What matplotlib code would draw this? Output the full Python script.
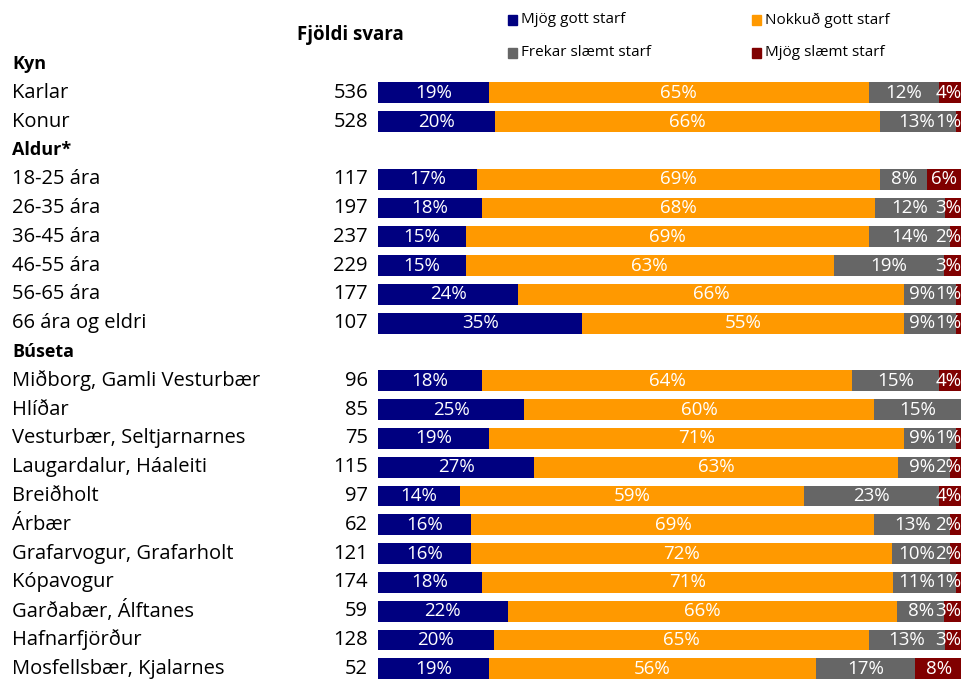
import matplotlib
matplotlib.use("Agg")
import matplotlib.pyplot as plt
from matplotlib.patches import Rectangle

plt.rcParams['font.family'] = ['Open Sans', 'DejaVu Sans']

groups = ["Kyn", "Aldur*", "Búseta"]
categories = [
    ["Karlar", "Konur"],
    ["18-25 ára", "26-35 ára", "36-45 ára", "46-55 ára", "56-65 ára", "66 ára og eldri"],
    ["Miðborg, Gamli Vesturbær", "Hlíðar", "Vesturbær, Seltjarnarnes",
     "Laugardalur, Háaleiti", "Breiðholt", "Árbær", "Grafarvogur, Grafarholt",
     "Kópavogur", "Garðabær, Álftanes", "Hafnarfjörður", "Mosfellsbær, Kjalarnes"],
]
counts = [536, 528,
          117, 197, 237, 229, 177, 107,
          96, 85, 75, 115, 97, 62, 121, 174, 59, 128, 52]
mjog_gott = [19, 20, 17, 18, 15, 15, 24, 35, 18, 25, 19, 27, 14, 16, 16, 18, 22, 20, 19]
nokkud_gott = [65, 66, 69, 68, 69, 63, 66, 55, 64, 60, 71, 63, 59, 69, 72, 71, 66, 65, 56]
frekar_slaemt = [12, 13, 8, 12, 14, 19, 9, 9, 15, 15, 9, 9, 23, 13, 10, 11, 8, 13, 17]
mjog_slaemt = [4, 1, 6, 3, 2, 3, 1, 1, 4, 0, 1, 2, 4, 2, 2, 1, 3, 3, 8]

series = [mjog_gott, nokkud_gott, frekar_slaemt, mjog_slaemt]
series_names = ["Mjög gott starf", "Nokkuð gott starf", "Frekar slæmt starf", "Mjög slæmt starf"]
colors = ["#000080", "#FF9900", "#666666", "#800000"]

W, H = 962, 679
fig = plt.figure(figsize=(W / 100, H / 100), dpi=100)

row0_px, step_px = 64, 28.8
y_top = (0 - row0_px) / step_px
y_bot = (H - row0_px) / step_px

ax = fig.add_axes([378 / W, 0, 1 - 378 / W, 1])
ax.set_xlim(0, 100)
ax.set_ylim(y_bot, y_top)
ax.axis("off")

# left-hand text axes sharing the same rows
lax = fig.add_axes([0, 0, 1, 1])
lax.set_xlim(0, W)
lax.set_ylim(y_bot, y_top)
lax.axis("off")

renderer = fig.canvas.get_renderer()
px_per_unit = (W - 378) / 100

row = 0
k = 0
for g, cats in zip(groups, categories):
    lax.text(12, row, g, fontsize=13, fontweight="bold", va="center", ha="left")
    row += 1
    for c in cats:
        lax.text(12, row, c, fontsize=14.5, va="center", ha="left")
        lax.text(368, row, str(counts[k]), fontsize=14.5, va="center", ha="right")
        vals = [s[k] for s in series]
        tot = sum(vals)
        left = 0
        labels = []
        for v, col in zip(vals, colors):
            w = v / tot * 100
            if v > 0:
                ax.barh(row, w, left=left, height=0.72, color=col, edgecolor="none")
                t = ax.text(left + w / 2, row, f"{v}%", color="white", fontsize=13.5,
                            ha="center", va="center")
                labels.append(t)
            left += w
        # keep labels inside the picture and off each other, working from the right
        limit = 99.9
        for t in reversed(labels):
            half = t.get_window_extent(renderer).width / 2 / px_per_unit
            if t.get_position()[0] + half > limit:
                t.set_x(limit - half)
            limit = t.get_position()[0] - half
        row += 1
        k += 1

lax.text(350, -1.0, "Fjöldi svara", fontsize=13.5, fontweight="bold", ha="center", va="center")

# legend
leg_pos = [(508, 20), (752, 20), (508, 53), (752, 53)]
for (px, py), name, col in zip(leg_pos, series_names, colors):
    yy = (py - row0_px) / step_px
    lax.add_patch(Rectangle((px, yy - 0.16), 9, 0.32, color=col))
    lax.text(px + 13, yy, name, fontsize=11, va="center", ha="left")

fig.savefig("out.png", dpi=100)
